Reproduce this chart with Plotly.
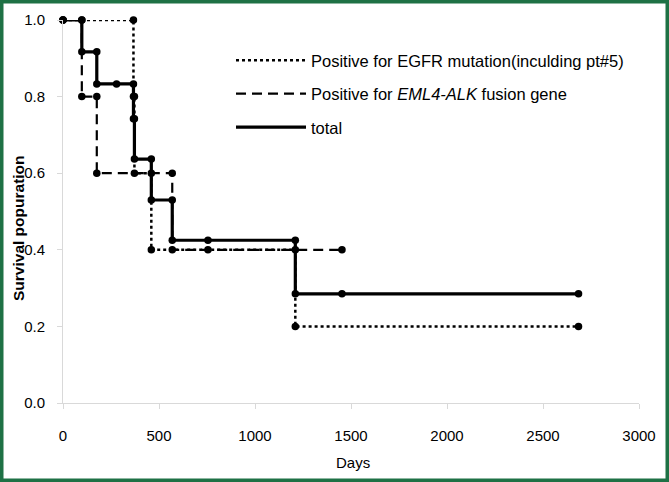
import plotly.graph_objects as go

# ---- data ----
total_event_days = [98, 176, 367, 372, 460, 569, 1210]
total_surv = [0.917, 0.833, 0.742, 0.637, 0.530, 0.425, 0.285]
total_censor_days = [279, 755, 1453, 2685]

egfr_event_days = [367, 372, 460, 1210]
egfr_surv = [0.8, 0.6, 0.4, 0.2]
egfr_censor_days = [2685]

alk_event_days = [98, 176, 569]
alk_surv = [0.8, 0.6, 0.4]
alk_censor_days = [755, 1453]

x_ticks = [0, 500, 1000, 1500, 2000, 2500, 3000]
y_ticks = [0.0, 0.2, 0.4, 0.6, 0.8, 1.0]
y_tick_labels = ["0.0", "0.2", "0.4", "0.6", "0.8", "1.0"]

names = ["Positive for EGFR mutation(inculding pt#5)",
         "Positive for <i>EML4-ALK</i> fusion gene",
         "total"]


def km_steps(events, surv, censors):
    items = [(t, 'e', s) for t, s in zip(events, surv)] + [(t, 'c', None) for t in censors]
    items.sort(key=lambda a: a[0])
    xs, ys = [0], [1.0]
    cur = 1.0
    for t, kind, s in items:
        xs.append(t); ys.append(cur)
        if kind == 'e':
            cur = s
            xs.append(t); ys.append(cur)
    return xs, ys


W, H = 669, 482
L, R, T, B = 63, 30, 20, 79
PW, PH = W - L - R, H - T - B
FONT = "Liberation Sans, Arial, sans-serif"

fig = go.Figure()

series = [
    (egfr_event_days, egfr_surv, egfr_censor_days, "dot", 2.5, names[0]),
    (alk_event_days, alk_surv, alk_censor_days, "10px,6px", 2.2, names[1]),
    (total_event_days, total_surv, total_censor_days, "solid", 3.2, names[2]),
]
for i, (ev, sv, cs, dash, w, nm) in enumerate(series):
    xs, ys = km_steps(ev, sv, cs)
    fig.add_trace(go.Scatter(
        x=xs, y=ys, mode="lines+markers",
        line=dict(color="black", width=w, dash=dash),
        marker=dict(color="black", size=7.5),
        showlegend=False, cliponaxis=False, hoverinfo="skip"))

for i, (ev, sv, cs, dash, w, nm) in enumerate(series):
    fig.add_trace(go.Scatter(
        x=[None], y=[None], mode="lines", name=nm,
        line=dict(color="black", width=w, dash=dash),
        legendgroup="g%d" % i, showlegend=True))

axis_common = dict(
    showgrid=False, zeroline=False, showline=True, linecolor="#d9d9d9",
    linewidth=1, ticks="outside", tickcolor="#d9d9d9", ticklen=5,
    tickfont=dict(family=FONT, size=15, color="#000000"),
)

fig.update_xaxes(range=[0, 3000], tickvals=x_ticks, ticktext=[str(v) for v in x_ticks],
                 ticklabelstandoff=14, **axis_common)
fig.update_yaxes(range=[0, 1.0], tickvals=y_ticks, ticktext=y_tick_labels,
                 ticklabelstandoff=9, **axis_common)

bx0, bx1 = 1.75, W - 1.75
by0, by1 = 1.75, H - 1.75
fig.add_shape(type="rect", xref="paper", yref="paper",
              x0=(bx0 - L) / PW, x1=(bx1 - L) / PW,
              y0=(T + PH - by1) / PH, y1=(T + PH - by0) / PH,
              line=dict(color="#1e7145", width=3.5), layer="above")

fig.add_annotation(text="Days", xref="paper", yref="paper",
                   x=(353 - L) / PW, y=(T + PH - 463) / PH,
                   xanchor="center", yanchor="middle",
                   showarrow=False, font=dict(family=FONT, size=15, color="#000"))
fig.add_annotation(text="<b>Survival popuration</b>", xref="paper", yref="paper",
                   x=(18 - L) / PW, y=(T + PH - 228) / PH, textangle=-90,
                   xanchor="center", yanchor="middle",
                   showarrow=False, font=dict(family=FONT, size=15.5, color="#000"))

fig.update_layout(
    width=W, height=H,
    margin=dict(l=L, r=R, t=T, b=B),
    paper_bgcolor="white", plot_bgcolor="white",
    showlegend=True,
    legend=dict(x=(629 - L) / PW, y=(T + PH - 43) / PH, xanchor="right", yanchor="top",
                bgcolor="rgba(0,0,0,0)", font=dict(family=FONT, size=16.5, color="#000"),
                itemwidth=70, tracegroupgap=9, traceorder="grouped"),
)

fig.write_html("out.html", post_script="document.body.style.margin='0';",
               config={"displayModeBar": False})
